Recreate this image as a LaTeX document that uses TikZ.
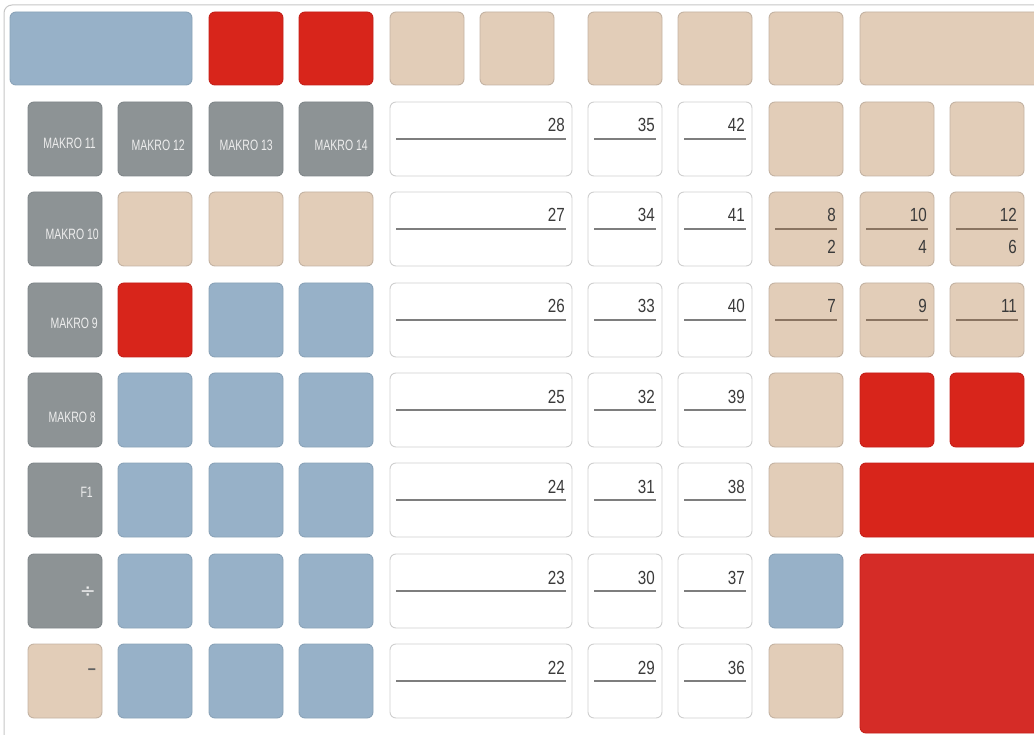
\documentclass[tikz,border=0pt]{standalone}
\usepackage{fontspec}
\usetikzlibrary{calc}
\newfontfamily\numf[FakeStretch=0.8]{Liberation Sans}
\newfontfamily\makf[FakeStretch=0.7]{Liberation Sans}
\newfontfamily\symf{DejaVu Sans}
\newfontfamily\dashf[FakeStretch=0.8]{Liberation Sans Bold}
\definecolor{kblue}{HTML}{97B1C8}
\definecolor{kblueb}{HTML}{8AA3B8}
\definecolor{kred}{HTML}{D8251B}
\definecolor{kredb}{HTML}{C42019}
\definecolor{kred2}{HTML}{D52C27}
\definecolor{kbeige}{HTML}{E2CDB8}
\definecolor{kbeigeb}{HTML}{C4B3A3}
\definecolor{kgray}{HTML}{8D9395}
\definecolor{kgrayb}{HTML}{80878A}
\definecolor{kwhiteb}{HTML}{CFCFCF}
\definecolor{numc}{HTML}{3A3A3A}
\definecolor{linec}{HTML}{7E7E7E}
\definecolor{blinec}{HTML}{8A7461}
\definecolor{makc}{HTML}{EDEDED}
\definecolor{framec}{HTML}{C6C6C6}
\tikzset{
  key/.style={draw, rounded corners=6pt, line width=0.9pt, minimum width=74pt, minimum height=74pt, inner sep=0pt, outer sep=0pt, anchor=north west},
  bluek/.style={key, fill=kblue, draw=kblueb},
  redk/.style={key, fill=kred, draw=kredb},
  bigredk/.style={key, fill=kred2, draw=kredb},
  beigek/.style={key, fill=kbeige, draw=kbeigeb},
  grayk/.style={key, fill=kgray, draw=kgrayb},
  whitek/.style={key, fill=white, draw=kwhiteb},
  num/.style={font=\numf\fontsize{19pt}{19pt}\selectfont, text=numc, inner sep=0pt, anchor=base east},
  mak/.style={font=\makf\fontsize{15pt}{15pt}\selectfont, text=makc, inner sep=0pt, anchor=east},
  symk/.style={font=\symf\fontsize{19pt}{19pt}\selectfont, text=makc, inner sep=0pt, anchor=east},
  dashk/.style={font=\dashf\fontsize{18pt}{18pt}\selectfont, text=numc!80, inner sep=0pt, anchor=east},
  numline/.style={line width=1.5pt, draw=linec},
  bnumline/.style={line width=1.5pt, draw=blinec},
}
\begin{document}
\begin{tikzpicture}[x=1pt,y=-1pt]
\useasboundingbox (0,0) rectangle (1034,735);
\begin{scope}
\clip (0,0) rectangle (1034,735);
\draw[framec, line width=1pt, rounded corners=8pt] (4,5) rectangle (1070,760);
% top row
\node[bluek, minimum width=182pt, minimum height=73pt] (t1) at (10,12) {};
\node[redk, minimum height=73pt] (t2) at (209,12) {};
\node[redk, minimum height=73pt] (t3) at (299,12) {};
\node[beigek, minimum height=73pt] (t4) at (390,12) {};
\node[beigek, minimum height=73pt] (t5) at (480,12) {};
\node[beigek, minimum height=73pt] (t6) at (588,12) {};
\node[beigek, minimum height=73pt] (t7) at (678,12) {};
\node[beigek, minimum height=73pt] (t8) at (769,12) {};
\node[beigek, minimum width=200pt, minimum height=73pt] (t9) at (860,12) {};
% column 1
\node[grayk] (m11) at (28,102) {};
\node[grayk] (m12) at (118,102) {};
\node[grayk] (m13) at (209,102) {};
\node[grayk] (m14) at (299,102) {};
\node[grayk] (m10) at (28,192) {};
\node[grayk] (m9) at (28,283) {};
\node[grayk] (m8) at (28,373) {};
\node[grayk] (f1) at (28,463) {};
\node[grayk] (dv) at (28,554) {};
\node[beigek] (mi) at (28,644) {};
\node[mak] (lm11) at ($(m11.north east)+(-6,41)$) {MAKRO 11};
\node[mak] (lm12) at ($(m12.north east)+(-7,43)$) {MAKRO 12};
\node[mak] (lm13) at ($(m13.north east)+(-10,43)$) {MAKRO 13};
\node[mak] (lm14) at ($(m14.north east)+(-5,43)$) {MAKRO 14};
\node[mak] (lm10) at ($(m10.north east)+(-3,42)$) {MAKRO 10};
\node[mak] (lm9) at ($(m9.north east)+(-4,40)$) {MAKRO 9};
\node[mak] (lm8) at ($(m8.north east)+(-6,44)$) {MAKRO 8};
\node[mak] (lf1) at ($(f1.north east)+(-9,29)$) {F1};
\node[symk] (ldv) at ($(dv.north east)+(-6,38)$) {÷};
\node[dashk] (lmi) at ($(mi.north east)+(-6,28)$) {–};
% columns 2-4
\node[beigek] (b32) at (118,192) {};
\node[beigek] (b33) at (209,192) {};
\node[beigek] (b34) at (299,192) {};
\node[redk] (r42) at (118,283) {};
\node[bluek] (b43) at (209,283) {};
\node[bluek] (b44) at (299,283) {};
\foreach \r/\y in {5/373,6/463,7/554,8/644}{
  \node[bluek] (b\r2) at (118,\y) {};
  \node[bluek] (b\r3) at (209,\y) {};
  \node[bluek] (b\r4) at (299,\y) {};
}
% white number keys
\foreach \r/\y/\a/\b/\c in {2/102/28/35/42,3/192/27/34/41,4/283/26/33/40,5/373/25/32/39,6/463/24/31/38,7/554/23/30/37,8/644/22/29/36}{
  \node[whitek, minimum width=182pt] (wa\r) at (390,\y) {};
  \node[whitek] (wb\r) at (588,\y) {};
  \node[whitek] (wc\r) at (678,\y) {};
  \draw[numline] ($(wa\r.west)+(6,0)$) -- ($(wa\r.east)+(-6,0)$);
  \draw[numline] ($(wb\r.west)+(6,0)$) -- ($(wb\r.east)+(-6,0)$);
  \draw[numline] ($(wc\r.west)+(6,0)$) -- ($(wc\r.east)+(-6,0)$);
  \node[num] (na\r) at ($(wa\r.north east)+(-7,30)$) {\a};
  \node[num] (nb\r) at ($(wb\r.north east)+(-7,30)$) {\b};
  \node[num] (nc\r) at ($(wc\r.north east)+(-7,30)$) {\c};
}
% right block
\node[beigek] (e21) at (769,102) {};
\node[beigek] (e22) at (860,102) {};
\node[beigek] (e23) at (950,102) {};
\node[beigek] (e31) at (769,192) {};
\node[beigek] (e32) at (860,192) {};
\node[beigek] (e33) at (950,192) {};
\node[beigek] (e41) at (769,283) {};
\node[beigek] (e42) at (860,283) {};
\node[beigek] (e43) at (950,283) {};
\foreach \k/\top/\bot in {e31/8/2,e32/10/4,e33/12/6}{
  \draw[bnumline] ($(\k.west)+(6,0)$) -- ($(\k.east)+(-6,0)$);
  \node[num] (u\k) at ($(\k.north east)+(-7,30)$) {\top};
  \node[num] (l\k) at ($(\k.north east)+(-7,62)$) {\bot};
}
\foreach \k/\top in {e41/7,e42/9,e43/11}{
  \draw[bnumline] ($(\k.west)+(6,0)$) -- ($(\k.east)+(-6,0)$);
  \node[num] (u\k) at ($(\k.north east)+(-7,30)$) {\top};
}
\node[beigek] (e51) at (769,373) {};
\node[redk] (e52) at (860,373) {};
\node[redk] (e53) at (950,373) {};
\node[beigek] (e61) at (769,463) {};
\node[redk, minimum width=200pt] (e62) at (860,463) {};
\node[bluek] (e71) at (769,554) {};
\node[bigredk, minimum width=200pt, minimum height=179pt] (e72) at (860,554) {};
\node[beigek] (e81) at (769,644) {};
\end{scope}
\end{tikzpicture}
\end{document}
